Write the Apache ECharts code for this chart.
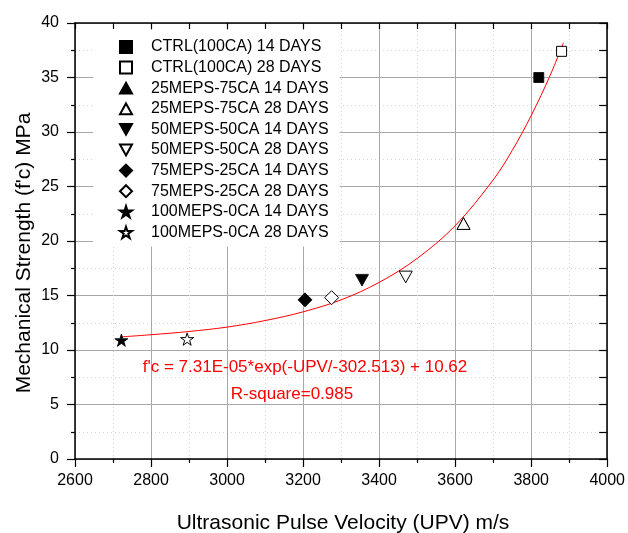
<!DOCTYPE html>
<html>
<head>
<meta charset="utf-8">
<script src="https://cdn.jsdelivr.net/npm/echarts@6/dist/echarts.min.js"></script>
<style>html,body{margin:0;padding:0;background:#fff}#c{width:628px;height:533px}</style>
</head>
<body>
<div id="c"></div>
<script>
// Data
const seriesNames = [
  "CTRL(100CA) 14 DAYS", "CTRL(100CA) 28 DAYS",
  "25MEPS-75CA 14 DAYS", "25MEPS-75CA 28 DAYS",
  "50MEPS-50CA 14 DAYS", "50MEPS-50CA 28 DAYS",
  "75MEPS-25CA 14 DAYS", "75MEPS-25CA 28 DAYS",
  "100MEPS-0CA 14 DAYS", "100MEPS-0CA 28 DAYS"
];
const upvValues = [3820, 3880, 3622, 3622, 3355, 3470, 3205, 3275, 2722, 2895];
const strengthValues = [35.0, 37.4, 21.6, 21.6, 16.4, 16.7, 14.6, 14.8, 10.9, 11.0];
const fitUpv = [2720, 2800, 2900, 3000, 3100, 3200, 3300, 3400, 3500, 3600, 3700, 3750, 3800, 3850, 3885];
const fitStrength = [11.2, 11.4, 11.7, 12.1, 12.7, 13.5, 14.6, 16.2, 18.4, 21.4, 25.6, 28.3, 31.5, 35.2, 38.2];
const xTicks = [2600, 2800, 3000, 3200, 3400, 3600, 3800, 4000];
const yTicks = [0, 5, 10, 15, 20, 25, 30, 35, 40];
const equationText = "f'c = 7.31E-05*exp(-UPV/-302.513) + 10.62";
const rsquareText = "R-square=0.985";

const STAR = 'path://M50,0 L61.2,34.5 L97.6,34.5 L68.2,55.9 L79.4,90.5 L50,69.1 L20.6,90.5 L31.8,55.9 L2.4,34.5 L38.8,34.5 Z';
const DOWN = 'path://M0,0 L100,0 L50,90 Z';
const UP = 'path://M50,0 L100,90 L0,90 Z';
const styles = [
  {symbol: 'rect', size: 10, filled: true},
  {symbol: 'rect', size: 10, filled: false},
  {symbol: UP, size: 13, filled: true},
  {symbol: UP, size: 13, filled: false},
  {symbol: DOWN, size: 13, filled: true},
  {symbol: DOWN, size: 13, filled: false},
  {symbol: 'diamond', size: 14, filled: true},
  {symbol: 'diamond', size: 14, filled: false},
  {symbol: STAR, size: 13, filled: true},
  {symbol: STAR, size: 13, filled: false}
];

const FONT = 'Liberation Sans, Arial, sans-serif';
const series = seriesNames.map((name, i) => ({
  name: name,
  type: 'scatter',
  data: [[upvValues[i], strengthValues[i]]],
  symbol: styles[i].symbol,
  symbolSize: styles[i].size,
  symbolKeepAspect: true,
  itemStyle: styles[i].filled
    ? {color: '#000', borderColor: '#000', borderWidth: 0.8, opacity: 1}
    : {color: '#fff', borderColor: '#000', borderWidth: 1, opacity: 1},
  z: 3,
  emphasis: {disabled: true}
}));
series.unshift({
  name: 'fit',
  type: 'line',
  data: fitUpv.map((x, i) => [x, fitStrength[i]]),
  smooth: 0.35,
  showSymbol: false,
  lineStyle: {color: '#ff0000', width: 1},
  z: 2,
  silent: true
});

const axisCommon = {
  axisLine: {show: true, onZero: false, lineStyle: {color: '#000', width: 1.5}},
};
const plain = v => String(v);

const chart = echarts.init(document.getElementById('c'), null, {renderer: 'canvas'});
chart.setOption({
  animation: false,
  backgroundColor: '#fff',
  grid: {left: 75, right: 17, top: 23, bottom: 74, containLabel: false},
  legend: {
    data: seriesNames,
    orient: 'vertical',
    left: 93, top: 30,
    padding: [9, 11, 6, 26],
    backgroundColor: '#fff',
    itemWidth: 12, itemHeight: 12, itemGap: 4.6,
    textStyle: {fontFamily: FONT, fontSize: 16, color: '#000', lineHeight: 16, padding: [0, 0, 0, 14]},
    selectedMode: false
  },
  xAxis: [
    Object.assign({}, axisCommon, {
      type: 'value', position: 'bottom',
      min: xTicks[0], max: xTicks[xTicks.length - 1], interval: 200,
      axisTick: {show: true, inside: false, length: 8, lineStyle: {color: '#000', width: 1.2}},
      minorTick: {show: true, splitNumber: 2, length: 4, lineStyle: {color: '#000', width: 1.2}},
      splitLine: {show: true, lineStyle: {color: '#a8a8a8', width: 1}},
      minorSplitLine: {show: true, lineStyle: {color: '#d4d4d4', width: 1, type: [1, 3]}},
      axisLabel: {fontFamily: FONT, fontSize: 16, color: '#000', margin: 14, formatter: plain}
    }),
    Object.assign({}, axisCommon, {
      type: 'value', position: 'top',
      min: xTicks[0], max: xTicks[xTicks.length - 1], interval: 200,
      axisTick: {show: true, inside: true, length: 6, lineStyle: {color: '#000', width: 1.2}},
      minorTick: {show: true, splitNumber: 2, length: 6, lineStyle: {color: '#000', width: 1.2}},
      splitLine: {show: false},
      axisLabel: {show: false}
    })
  ],
  yAxis: [
    Object.assign({}, axisCommon, {
      type: 'value', position: 'left',
      min: yTicks[0], max: yTicks[yTicks.length - 1], interval: 5,
      axisTick: {show: true, inside: false, length: 8, lineStyle: {color: '#000', width: 1.2}},
      minorTick: {show: true, splitNumber: 2, length: 4, lineStyle: {color: '#000', width: 1.2}},
      splitLine: {show: true, lineStyle: {color: '#a8a8a8', width: 1}},
      minorSplitLine: {show: true, lineStyle: {color: '#d4d4d4', width: 1, type: [1, 3]}},
      axisLabel: {fontFamily: FONT, fontSize: 16, color: '#000', margin: 16, formatter: plain}
    }),
    Object.assign({}, axisCommon, {
      type: 'value', position: 'right',
      min: yTicks[0], max: yTicks[yTicks.length - 1], interval: 5,
      axisTick: {show: true, inside: true, length: 8, lineStyle: {color: '#000', width: 1.2}},
      minorTick: {show: true, splitNumber: 2, length: 8, lineStyle: {color: '#000', width: 1.2}},
      splitLine: {show: false},
      axisLabel: {show: false}
    })
  ],
  graphic: [
    {type: 'text', x: 24, y: 253, rotation: Math.PI / 2,
     style: {text: "Mechanical Strength (f'c) MPa", fontFamily: FONT, fontSize: 21, fill: '#000',
             align: 'center', verticalAlign: 'middle'}},
    {type: 'text', x: 343, y: 523,
     style: {text: 'Ultrasonic Pulse Velocity (UPV) m/s', fontFamily: FONT, fontSize: 21, fill: '#000',
             align: 'center', verticalAlign: 'middle'}},
    {type: 'text', x: 305, y: 367, z: 10,
     style: {text: equationText, fontFamily: FONT, fontSize: 17, fill: '#ff0000',
             align: 'center', verticalAlign: 'middle'}},
    {type: 'text', x: 292, y: 394, z: 10,
     style: {text: rsquareText, fontFamily: FONT, fontSize: 17, fill: '#ff0000',
             align: 'center', verticalAlign: 'middle'}}
  ],
  series: series
});
</script>
</body>
</html>
